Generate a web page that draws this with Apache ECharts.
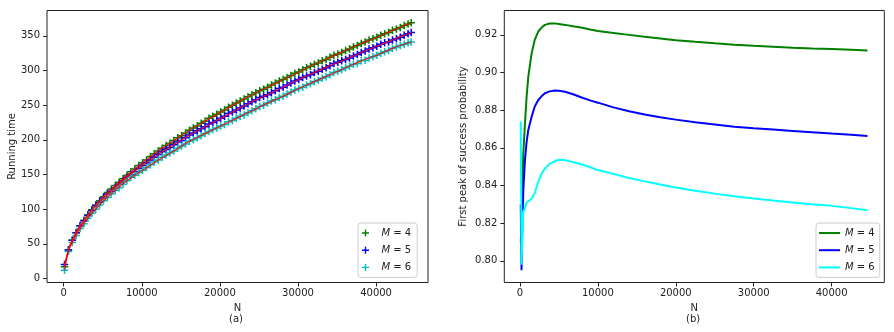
<!DOCTYPE html>
<html>
<head>
<meta charset="utf-8">
<script src="https://cdn.jsdelivr.net/npm/echarts@6/dist/echarts.min.js"></script>
<style>
  html, body { margin: 0; padding: 0; background: #fff; }
  #chart { width: 894px; height: 332px; }
</style>
</head>
<body>
<div id="chart"></div>
<script>
// (a) running time, markers every ~500 N
const runN = [100, 600, 1100, 1600, 2100, 2600, 3100, 3600, 4100, 4600, 5100, 5600, 6100, 6600, 7100, 7600, 8100, 8600, 9100, 9600,
  10100, 10600, 11100, 11600, 12100, 12600, 13100, 13600, 14100, 14600, 15100, 15600, 16100, 16600, 17100, 17600, 18100, 18600, 19100, 19600,
  20100, 20600, 21100, 21600, 22100, 22600, 23100, 23600, 24100, 24600, 25100, 25600, 26100, 26600, 27100, 27600, 28100, 28600, 29100, 29600,
  30100, 30600, 31100, 31600, 32100, 32600, 33100, 33600, 34100, 34600, 35100, 35600, 36100, 36600, 37100, 37600, 38100, 38600, 39100, 39600,
  40100, 40600, 41100, 41600, 42100, 42600, 43100, 43600, 44100, 44500];
const runM4 = [17, 41, 55, 66, 76, 84, 92, 99, 106, 112, 118, 124, 129, 134, 139, 144, 149, 154, 158, 163,
  167, 171, 176, 180, 184, 188, 192, 195, 199, 203, 206, 210, 214, 217, 220, 224, 227, 231, 234, 237,
  240, 243, 247, 250, 253, 256, 259, 262, 265, 268, 271, 273, 276, 279, 282, 285, 287, 290, 293, 296,
  298, 301, 304, 306, 309, 311, 314, 316, 319, 322, 324, 326, 329, 331, 334, 336, 339, 341, 344, 346,
  348, 351, 353, 355, 358, 360, 362, 365, 367, 369];
const runM5 = [20, 41, 55, 66, 76, 83, 91, 98, 105, 110, 116, 122, 126, 131, 136, 141, 146, 150, 154, 159,
  163, 167, 171, 175, 179, 183, 186, 189, 193, 197, 199, 203, 207, 210, 213, 216, 219, 223, 225, 228,
  231, 234, 238, 240, 243, 246, 249, 252, 255, 258, 261, 263, 265, 268, 271, 274, 276, 279, 282, 285,
  287, 290, 292, 294, 297, 299, 302, 304, 307, 310, 312, 314, 316, 318, 321, 323, 326, 328, 331, 333,
  335, 338, 340, 341, 344, 346, 348, 351, 353, 355];
const runM6 = [12, 39, 52, 62, 72, 79, 87, 94, 100, 106, 112, 117, 122, 127, 131, 136, 141, 146, 149, 153,
  156, 160, 164, 168, 171, 175, 178, 181, 184, 188, 191, 194, 198, 200, 203, 206, 209, 212, 215, 217,
  220, 222, 226, 228, 231, 234, 236, 239, 242, 245, 248, 250, 253, 256, 258, 261, 263, 266, 269, 272,
  274, 276, 279, 281, 284, 286, 289, 291, 294, 297, 299, 301, 304, 306, 309, 310, 314, 315, 318, 320,
  322, 325, 327, 329, 332, 334, 336, 338, 340, 341];

// (b) first peak of success probability
const probN = [100, 200, 300, 430, 640, 850, 1070, 1500, 1900, 2350, 2800, 3200, 3800, 4500, 5000, 5800, 7000, 8000, 9000, 10000,
  12000, 14000, 16000, 18000, 20000, 22500, 25000, 27500, 30000, 32500, 35000, 37500, 40000, 42500, 44600];
const probM4 = [0.810, 0.820, 0.838, 0.857, 0.873, 0.887, 0.8978, 0.9103, 0.9174, 0.9218, 0.9240, 0.9253, 0.9260, 0.9261, 0.9258, 0.9253, 0.9244, 0.9238, 0.9228, 0.9220,
  0.9210, 0.9200, 0.9190, 0.9181, 0.9172, 0.9163, 0.9155, 0.9148, 0.9142, 0.9137, 0.9132, 0.9128, 0.9125, 0.9121, 0.9117];
const probM5 = [0.830, 0.795, 0.818, 0.8376, 0.8535, 0.863, 0.8695, 0.8766, 0.882, 0.8854, 0.8875, 0.889, 0.8900, 0.8904, 0.8903, 0.8898, 0.8882, 0.8866, 0.8852, 0.8840,
  0.8815, 0.8794, 0.8777, 0.8762, 0.8750, 0.8736, 0.8724, 0.8712, 0.8704, 0.8697, 0.8690, 0.8683, 0.8676, 0.8670, 0.8663];
const probM6 = [0.874, 0.798, 0.812, 0.826, 0.828, 0.831, 0.832, 0.833, 0.836, 0.842, 0.8465, 0.849, 0.8515, 0.853, 0.8537, 0.8535, 0.8522, 0.8512, 0.8497, 0.8482,
  0.8462, 0.8440, 0.8422, 0.8405, 0.8390, 0.8372, 0.8357, 0.8343, 0.8331, 0.8320, 0.8310, 0.8300, 0.8292, 0.8280, 0.8269];

const xTicks = [0, 10000, 20000, 30000, 40000];
const runTicks = [0, 50, 100, 150, 200, 250, 300, 350];
const probTicks = [0.80, 0.82, 0.84, 0.86, 0.88, 0.90, 0.92];
const mLabels = ['4', '5', '6'];

const FONT = 'DejaVu Sans';
const INK = '#222';
const PLUS = 'path://M4,0H6V4H10V6H6V10H4V6H0V4H4Z';

const pairs = (xs, ys) => xs.map((x, i) => [x, ys[i]]);
// fit curve goes through every 4th marker, smoothed
const thin = (arr) => arr.filter((p, i) => i < 3 || i % 4 === 0 || i === arr.length - 1);

const chart = echarts.init(document.getElementById('chart'), null, { renderer: 'canvas' });

const tickCfg = (vals) => ({ show: true, inside: false, customValues: vals, length: 4, lineStyle: { color: INK, width: 1 } });
const labelCfg = (vals, extra) => Object.assign({
  customValues: vals, color: INK, fontFamily: FONT, fontSize: 10, margin: 6,
  formatter: (v) => String(v)
}, extra || {});
const hiddenLine = { show: false, onZero: false };

const legendCommon = {
  orient: 'vertical',
  itemWidth: 22,
  itemHeight: 7,
  itemGap: 7.2,
  backgroundColor: 'rgba(255,255,255,0.8)',
  borderColor: '#cccccc',
  borderWidth: 1,
  borderRadius: 3,
  textStyle: {
    fontFamily: FONT, fontSize: 10, color: INK,
    rich: { i: { fontFamily: FONT, fontSize: 10, fontStyle: 'italic', color: INK } }
  },
  formatter: (name) => '{i|M} = ' + name.slice(1)
};

const scatterColors = ['#008000', '#0000ff', '#00bfbf'];
const lineColors = ['#008000', '#0000ff', '#00ffff'];
const runData = [runM4, runM5, runM6];
const probData = [probM4, probM5, probM6];

const series = [];
runData.forEach((vals, i) => {
  series.push({
    name: 'a' + mLabels[i],
    type: 'scatter',
    xAxisIndex: 0, yAxisIndex: 0,
    symbol: PLUS,
    symbolSize: 7.5,
    symbolKeepAspect: true,
    itemStyle: { color: scatterColors[i], opacity: 1 },
    data: pairs(runN, vals),
    z: 2
  });
});
// red fit curves over the markers (dash patterns do not render here, so solid and thin)
runData.forEach((vals, i) => {
  series.push({
    name: 'fit' + mLabels[i],
    type: 'line',
    xAxisIndex: 0, yAxisIndex: 0,
    z: 10,
    showSymbol: false,
    symbol: 'none',
    smooth: 0.2,
    lineStyle: { color: '#ff0000', width: 1.2, opacity: 0.9 },
    data: thin(pairs(runN, vals))
  });
});
probData.forEach((vals, i) => {
  series.push({
    name: 'b' + mLabels[i],
    type: 'line',
    xAxisIndex: 1, yAxisIndex: 1,
    showSymbol: false,
    symbol: 'none',
    lineStyle: { color: lineColors[i], width: 2 },
    itemStyle: { color: lineColors[i] },
    data: pairs(probN, vals),
    z: 2 + i
  });
});

chart.setOption({
  animation: false,
  backgroundColor: '#ffffff',
  grid: [
    { left: 47, top: 10.5, width: 381, height: 272, show: true, borderColor: INK, borderWidth: 1, backgroundColor: 'transparent' },
    { left: 504.3, top: 10.5, width: 380, height: 272, show: true, borderColor: INK, borderWidth: 1, backgroundColor: 'transparent' }
  ],
  xAxis: [
    {
      gridIndex: 0, type: 'value', min: -2140, max: 46650,
      name: 'N', nameLocation: 'middle', nameGap: 19,
      nameTextStyle: { fontFamily: FONT, fontSize: 10, color: INK },
      axisLine: hiddenLine,
      axisTick: tickCfg(xTicks),
      axisLabel: labelCfg(xTicks),
      splitLine: { show: false }
    },
    {
      gridIndex: 1, type: 'value', min: -2011, max: 46759,
      name: 'N', nameLocation: 'middle', nameGap: 19,
      nameTextStyle: { fontFamily: FONT, fontSize: 10, color: INK },
      axisLine: hiddenLine,
      axisTick: tickCfg(xTicks),
      axisLabel: labelCfg(xTicks),
      splitLine: { show: false }
    }
  ],
  yAxis: [
    {
      gridIndex: 0, type: 'value', min: -5.8, max: 386.6,
      name: 'Running time', nameLocation: 'middle', nameGap: 30,
      nameTextStyle: { fontFamily: FONT, fontSize: 10, color: INK },
      axisLine: hiddenLine,
      axisTick: tickCfg(runTicks),
      axisLabel: labelCfg(runTicks, { margin: 7 }),
      splitLine: { show: false }
    },
    {
      gridIndex: 1, type: 'value', min: 0.78851, max: 0.93294,
      name: 'First peak of success probability', nameLocation: 'middle', nameGap: 36,
      nameTextStyle: { fontFamily: FONT, fontSize: 10, color: INK },
      axisLine: hiddenLine,
      axisTick: tickCfg(probTicks),
      axisLabel: labelCfg(probTicks, { margin: 7, formatter: (v) => v.toFixed(2) }),
      splitLine: { show: false }
    }
  ],
  legend: [
    Object.assign({}, legendCommon, {
      left: 358, top: 223, padding: [5, 6, 5, 4],
      data: mLabels.map((m) => ({ name: 'a' + m, icon: PLUS }))
    }),
    Object.assign({}, legendCommon, {
      left: 816, top: 223, padding: [5, 5, 5, 3], itemWidth: 21, itemHeight: 2,
      data: mLabels.map((m) => ({ name: 'b' + m, icon: 'rect' }))
    })
  ],
  graphic: [
    { type: 'text', left: 229, top: 314, style: { text: '(a)', font: '10px "DejaVu Sans"', fill: INK } },
    { type: 'text', left: 686, top: 314, style: { text: '(b)', font: '10px "DejaVu Sans"', fill: INK } }
  ],
  series: series
});
</script>
</body>
</html>
